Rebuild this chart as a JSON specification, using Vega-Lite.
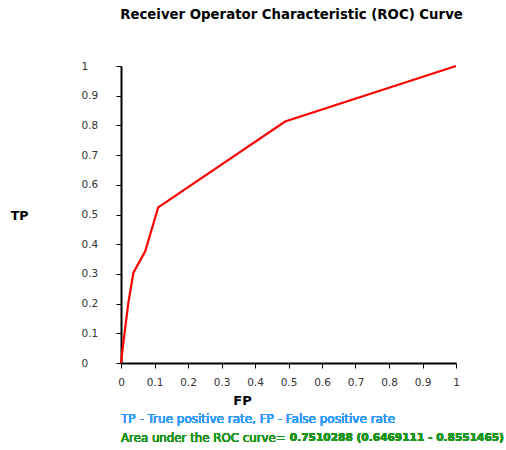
{
  "$schema": "https://vega.github.io/schema/vega-lite/v6.json",
  "width": 335,
  "height": 297,
  "autosize": {"type": "none"},
  "padding": {"left": 121, "top": 66, "right": 50, "bottom": 87},
  "background": "white",
  "config": {
    "view": {"stroke": null},
    "font": "DejaVu Sans",
    "axisX": {
      "titleFont": "DejaVu Sans",
      "titleFontSize": 13,
      "titleFontWeight": "bold",
      "titleColor": "#000000",
      "titleX": 121,
      "titleY": 37,
      "titleAlign": "center",
      "titleBaseline": "middle",
      "labelFont": "DejaVu Sans",
      "labelFontSize": 10.5,
      "labelColor": "#333333",
      "labelPadding": 9,
      "labelFlush": false,
      "labelOverlap": false,
      "domainColor": "#000000",
      "domainWidth": 2,
      "tickColor": "#000000",
      "tickSize": 5,
      "tickWidth": 1,
      "grid": false
    },
    "axisY": {
      "titleFont": "DejaVu Sans",
      "titleFontSize": 12.5,
      "titleFontWeight": "bold",
      "titleColor": "#000000",
      "titleAngle": 0,
      "titleX": -102,
      "titleY": 149,
      "titleAlign": "center",
      "titleBaseline": "middle",
      "labelFont": "DejaVu Sans",
      "labelFontSize": 10.5,
      "labelColor": "#333333",
      "labelAlign": "left",
      "labelPadding": 35,
      "labelFlush": false,
      "labelOverlap": false,
      "domainColor": "#000000",
      "domainWidth": 2,
      "tickColor": "#000000",
      "tickSize": 5,
      "tickWidth": 1,
      "grid": false
    }
  },
  "title": {
    "text": "Receiver Operator Characteristic (ROC) Curve",
    "font": "DejaVu Sans",
    "fontSize": 13.3,
    "fontWeight": "bold",
    "color": "#000000",
    "anchor": "middle",
    "dx": 3,
    "offset": 40
  },
  "data": {
    "values": [
      {"fp": 0.0, "tp": 0.0},
      {"fp": 0.007, "tp": 0.068},
      {"fp": 0.022, "tp": 0.203},
      {"fp": 0.037, "tp": 0.304},
      {"fp": 0.072, "tp": 0.375},
      {"fp": 0.111, "tp": 0.524},
      {"fp": 0.49, "tp": 0.813},
      {"fp": 1.0, "tp": 1.0}
    ]
  },
  "layer": [
    {
      "mark": {"type": "line", "color": "#ff0000", "strokeWidth": 2.2, "clip": false},
      "encoding": {
        "x": {
          "field": "fp",
          "type": "quantitative",
          "scale": {"domain": [0, 1], "nice": false, "zero": false},
          "axis": {
            "title": "FP",
            "values": [0, 0.1, 0.2, 0.3, 0.4, 0.5, 0.6, 0.7, 0.8, 0.9, 1],
            "labelExpr": "datum.value == 0 ? '0' : format(datum.value, '.1~f')"
          }
        },
        "y": {
          "field": "tp",
          "type": "quantitative",
          "scale": {"domain": [0, 1], "nice": false, "zero": false},
          "axis": {
            "title": "TP",
            "values": [0, 0.1, 0.2, 0.3, 0.4, 0.5, 0.6, 0.7, 0.8, 0.9, 1],
            "labelExpr": "datum.value == 0 ? '0' : format(datum.value, '.1~f')"
          }
        }
      }
    },
    {
      "mark": {"type": "text", "text": "TP - True positive rate, FP - False positive rate", "align": "left", "baseline": "middle", "font": "DejaVu Sans", "fontSize": 12, "color": "#2f9bff", "clip": false},
      "encoding": {
        "x": {"datum": 0, "type": "quantitative", "axis": {"title": "FP", "values": [0, 0.1, 0.2, 0.3, 0.4, 0.5, 0.6, 0.7, 0.8, 0.9, 1], "labelExpr": "datum.value == 0 ? '0' : format(datum.value, '.1~f')"}},
        "y": {"datum": -0.19, "type": "quantitative", "axis": {"title": "TP", "values": [0, 0.1, 0.2, 0.3, 0.4, 0.5, 0.6, 0.7, 0.8, 0.9, 1], "labelExpr": "datum.value == 0 ? '0' : format(datum.value, '.1~f')"}}
      }
    },
    {
      "mark": {"type": "text", "text": "Area under the ROC curve=", "align": "left", "baseline": "middle", "font": "DejaVu Sans", "fontSize": 11.8, "color": "#1e951e", "clip": false},
      "encoding": {
        "x": {"datum": 0, "type": "quantitative", "axis": {"title": "FP", "values": [0, 0.1, 0.2, 0.3, 0.4, 0.5, 0.6, 0.7, 0.8, 0.9, 1], "labelExpr": "datum.value == 0 ? '0' : format(datum.value, '.1~f')"}},
        "y": {"datum": -0.254, "type": "quantitative", "axis": {"title": "TP", "values": [0, 0.1, 0.2, 0.3, 0.4, 0.5, 0.6, 0.7, 0.8, 0.9, 1], "labelExpr": "datum.value == 0 ? '0' : format(datum.value, '.1~f')"}}
      }
    },
    {
      "mark": {"type": "text", "text": "0.7510288 (0.6469111 - 0.8551465)", "align": "left", "baseline": "middle", "font": "DejaVu Sans", "fontSize": 10.6, "fontWeight": "bold", "color": "#1e951e", "clip": false},
      "encoding": {
        "x": {"datum": 0.504, "type": "quantitative", "axis": {"title": "FP", "values": [0, 0.1, 0.2, 0.3, 0.4, 0.5, 0.6, 0.7, 0.8, 0.9, 1], "labelExpr": "datum.value == 0 ? '0' : format(datum.value, '.1~f')"}},
        "y": {"datum": -0.254, "type": "quantitative", "axis": {"title": "TP", "values": [0, 0.1, 0.2, 0.3, 0.4, 0.5, 0.6, 0.7, 0.8, 0.9, 1], "labelExpr": "datum.value == 0 ? '0' : format(datum.value, '.1~f')"}}
      }
    }
  ]
}
